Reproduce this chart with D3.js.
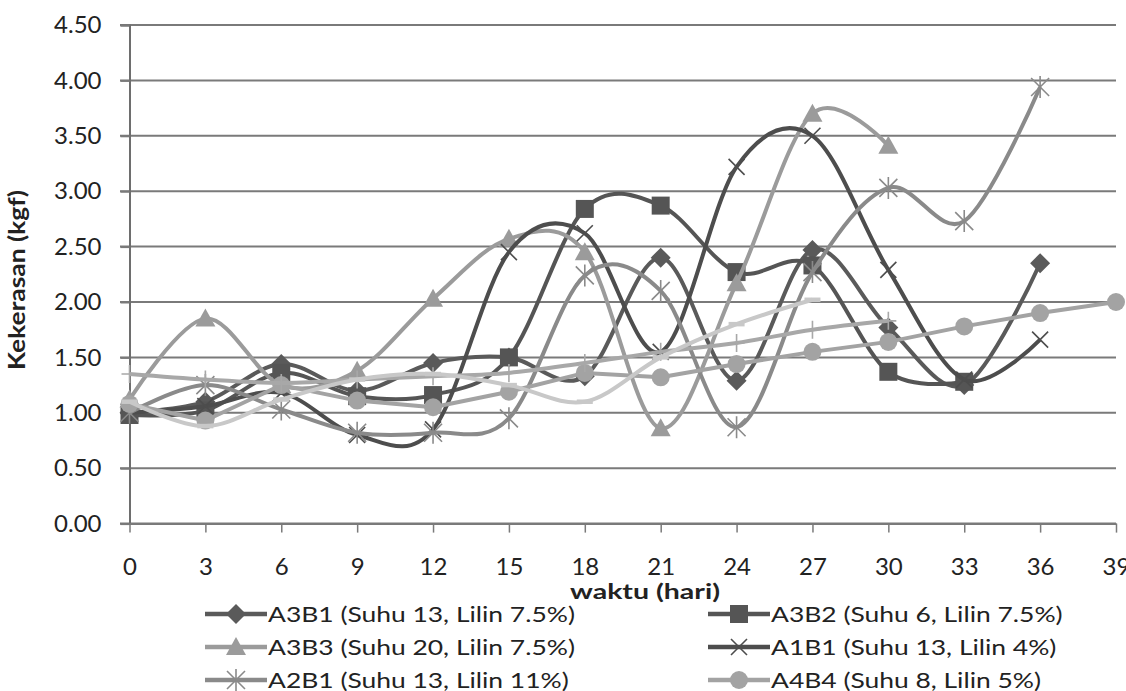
<!DOCTYPE html>
<html>
<head>
<meta charset="utf-8">
<script src="https://cdn.jsdelivr.net/npm/d3@7"></script>
<style>
  body { margin: 0; background: #fff; }
  svg { display: block; font-family: Lato, "Open Sans", sans-serif; }
</style>
</head>
<body>
<svg id="chart" width="1126" height="691"></svg>
<script>
// data
const days = [0, 3, 6, 9, 12, 15, 18, 21, 24, 27, 30, 33, 36, 39];
const yTicks = [0, 0.5, 1, 1.5, 2, 2.5, 3, 3.5, 4, 4.5];

const a3b1 = [1.00, 1.10, 1.44, 1.20, 1.45, 1.50, 1.33, 2.40, 1.29, 2.47, 1.77, 1.25, 2.35, null];
const a3b2 = [0.98, 1.02, 1.36, 1.15, 1.16, 1.50, 2.84, 2.87, 2.27, 2.33, 1.37, 1.28, null, null];
const a3b3 = [1.12, 1.85, 1.25, 1.38, 2.03, 2.57, 2.45, 0.86, 2.17, 3.70, 3.41, null, null, null];
const a1b1 = [1.00, 1.06, 1.18, 0.80, 0.85, 2.45, 2.62, 1.55, 3.22, 3.50, 2.29, 1.30, 1.66, null];
const a2b1 = [1.00, 1.25, 1.03, 0.82, 0.82, 0.95, 2.24, 2.10, 0.87, 2.27, 3.03, 2.73, 3.94, null];
const a4b4 = [1.08, 0.93, 1.25, 1.11, 1.05, 1.19, 1.36, 1.32, 1.44, 1.55, 1.64, 1.78, 1.90, 2.00];
const s7   = [1.35, 1.30, 1.27, 1.30, 1.33, 1.36, 1.45, 1.55, 1.63, 1.75, 1.83, null, null, null];
const s8   = [1.10, 0.88, 1.12, 1.30, 1.35, 1.25, 1.10, 1.50, 1.80, 2.02, null, null, null, null];

const series = [
  {name: "A3B1 (Suhu 13, Lilin 7.5%)", values: a3b1, color: "#5a5a5a", marker: "diamond", smooth: true},
  {name: "A3B2 (Suhu 6, Lilin 7.5%)",  values: a3b2, color: "#555555", marker: "square",  smooth: true},
  {name: "A3B3 (Suhu 20, Lilin 7.5%)", values: a3b3, color: "#9b9b9b", marker: "triangle", smooth: true},
  {name: "A1B1 (Suhu 13, Lilin 4%)",   values: a1b1, color: "#4d4d4d", marker: "x",       smooth: true},
  {name: "A2B1 (Suhu 13, Lilin 11%)",  values: a2b1, color: "#8a8a8a", marker: "star",    smooth: true},
  {name: "A4B4 (Suhu 8, Lilin 5%)",    values: a4b4, color: "#a3a3a3", marker: "circle",  smooth: false},
  {name: null, values: s7, color: "#a8a8a8", marker: "plus", smooth: true},
  {name: null, values: s8, color: "#c8c8c8", marker: "dash", smooth: true}
];

const svg = d3.select("#chart");
const x = d3.scaleLinear().domain([0, 39]).range([129.5, 1116]);
const y = d3.scaleLinear().domain([0, 4.5]).range([523.6, 25]);

// gridlines
svg.append("g")
  .selectAll("line")
  .data(yTicks)
  .join("line")
  .attr("x1", 120).attr("x2", 1116)
  .attr("y1", d => y(d)).attr("y2", d => y(d))
  .attr("stroke", "#7a7a7a").attr("stroke-width", 2);

// y axis
const yAxis = svg.append("g")
  .attr("transform", `translate(${x(0)},0)`)
  .call(d3.axisLeft(y).tickValues(yTicks).tickFormat(d3.format(".2f")).tickSize(9).tickPadding(19));
yAxis.select(".domain").attr("stroke", "#6e6e6e").attr("stroke-width", 2);
yAxis.selectAll(".tick line").attr("stroke", "#7a7a7a").attr("stroke-width", 2);
yAxis.selectAll("text").attr("font-size", 24).attr("fill", "#222").attr("font-family", "Lato");

// x axis
const xAxis = svg.append("g")
  .attr("transform", `translate(0,${y(0)})`)
  .call(d3.axisBottom(x).tickValues(days).tickSize(9).tickPadding(25).tickSizeOuter(0));
xAxis.select(".domain").attr("stroke", "#7a7a7a").attr("stroke-width", 2);
xAxis.selectAll(".tick line").attr("stroke", "#7a7a7a").attr("stroke-width", 1.5);
xAxis.selectAll("text").attr("font-size", 24).attr("fill", "#222").attr("font-family", "Lato");

// axis titles
svg.append("text")
  .attr("transform", "translate(25,280) rotate(-90)")
  .attr("text-anchor", "middle")
  .attr("font-size", 23).attr("font-weight", "bold").attr("fill", "#222")
  .attr("textLength", 180).attr("lengthAdjust", "spacingAndGlyphs")
  .text("Kekerasan (kgf)");
svg.append("text")
  .attr("x", 645).attr("y", 599)
  .attr("text-anchor", "middle")
  .attr("font-size", 20).attr("font-weight", "bold").attr("fill", "#222")
  .attr("textLength", 150).attr("lengthAdjust", "spacingAndGlyphs")
  .text("waktu (hari)");

function markerPath(type) {
  switch (type) {
    case "diamond": return "M0,-10L10,0L0,10L-10,0Z";
    case "square": return "M-9,-9H9V9H-9Z";
    case "triangle": return "M0,-10L10,8H-10Z";
    case "x": return "M-8,-8L8,8M-8,8L8,-8";
    case "star": return "M-9,-9L9,9M-9,9L9,-9M0,-11V11";
    case "plus": return "M-8,0H8M0,-9V9";
    case "dash": return "M-8,0H8";
    default: return "";
  }
}

function drawMarker(g, type, color) {
  if (type === "circle") {
    g.append("circle").attr("r", 9).attr("fill", color);
  } else if (type === "x" || type === "star" || type === "plus" || type === "dash") {
    g.append("path").attr("d", markerPath(type))
      .attr("fill", "none").attr("stroke", color)
      .attr("stroke-width", type === "dash" ? 4.5 : 1.6);
  } else {
    g.append("path").attr("d", markerPath(type)).attr("fill", color);
  }
}

const plot = svg.append("g");
series.forEach(s => {
  const pts = days.map((d, i) => [d, s.values[i]]).filter(p => p[1] != null);
  const line = d3.line()
    .x(p => x(p[0])).y(p => y(p[1]))
    .curve(s.smooth ? d3.curveCatmullRom.alpha(0) : d3.curveLinear);
  plot.append("path")
    .attr("d", line(pts))
    .attr("fill", "none")
    .attr("stroke", s.color)
    .attr("stroke-width", 4)
    .attr("stroke-linejoin", "round");
  pts.forEach(p => {
    const g = plot.append("g").attr("transform", `translate(${x(p[0])},${y(p[1])})`);
    drawMarker(g, s.marker, s.color);
  });
});

// legend
const legendItems = series.filter(s => s.name);
const legend = svg.append("g");
legendItems.forEach((s, i) => {
  const col = i % 2, row = Math.floor(i / 2);
  const lx = col === 0 ? 205 : 708;
  const ly = 614 + row * 33;
  const g = legend.append("g").attr("transform", `translate(${lx},${ly})`);
  g.append("line").attr("x1", 0).attr("x2", 62).attr("stroke", s.color).attr("stroke-width", 4.5);
  const m = g.append("g").attr("transform", "translate(31,0)");
  drawMarker(m, s.marker, s.color);
  g.append("text")
    .attr("transform", "translate(63,7.5) scale(1.23,1)")
    .attr("font-size", 21.5).attr("fill", "#222")
    .text(s.name);
});
</script>
</body>
</html>
